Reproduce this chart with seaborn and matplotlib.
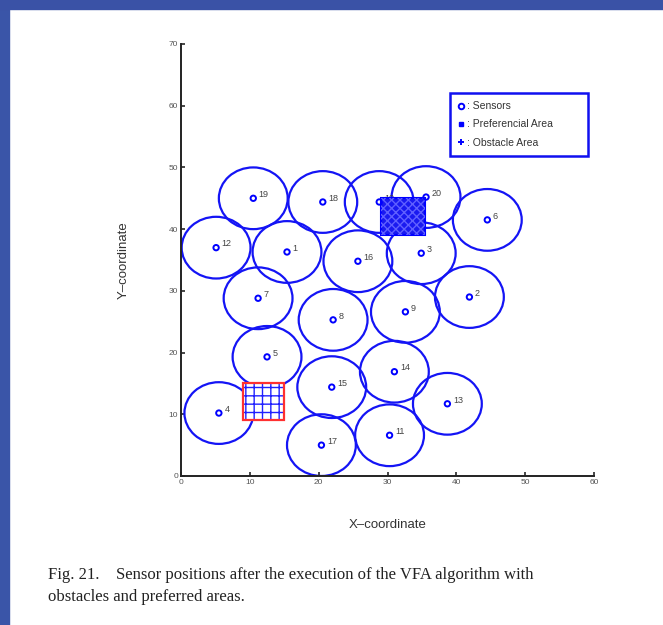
import matplotlib
matplotlib.use("Agg")
import matplotlib.pyplot as plt
from matplotlib.patches import Circle, Rectangle
from matplotlib.lines import Line2D
import pandas as pd
import seaborn as sns

# sensor ids and final positions
sensor_ids = list(range(1, 21))
sensor_x = [15.4, 41.9, 34.9, 5.5, 12.5, 44.5, 11.2, 22.1, 32.6, 28.8,
            30.3, 5.1, 38.7, 31.0, 21.9, 25.7, 20.4, 20.6, 10.5, 35.6]
sensor_y = [36.3, 29.0, 36.1, 10.2, 19.3, 41.5, 28.8, 25.3, 26.6, 44.4,
            6.6, 37.0, 11.7, 16.9, 14.4, 34.8, 5.0, 44.4, 45.0, 45.2]
sensing_radius = 5

# areas: [x0, y0, width, height]
preferred_area = [29, 39, 6.5, 6]
obstacle_area = [9, 9, 6, 6]

legend_labels = [": Sensors", ": Preferencial Area", ": Obstacle Area"]

df = pd.DataFrame({"id": sensor_ids, "x": sensor_x, "y": sensor_y})

sns.set_style("ticks")
plt.rcParams["font.family"] = ["Liberation Sans", "DejaVu Sans"]
plt.rcParams["hatch.linewidth"] = 1.0

fig = plt.figure(figsize=(6.63, 6.25), dpi=100)
fig.patch.set_facecolor("white")
# blue slide frame (left and top)
fig.patches.append(Rectangle((0, 0), 9 / 663, 1, transform=fig.transFigure,
                             color="#3a55a8", zorder=0))
fig.patches.append(Rectangle((0, 1 - 9 / 625), 1, 9 / 625, transform=fig.transFigure,
                             color="#3a52a6", zorder=0))

ax = fig.add_axes([181 / 663, 149 / 625, 413 / 663, 432 / 625])

# sensing ranges
for x, y in zip(sensor_x, sensor_y):
    ax.add_patch(Circle((x, y), sensing_radius, fill=False, edgecolor="#1414f5",
                        linewidth=1.6, zorder=2))

# labels
for i, x, y in zip(sensor_ids, sensor_x, sensor_y):
    ax.text(x + 0.8, y + 0.2, str(i), fontsize=6.5, color="#444444", zorder=3)

# preferred area (dense blue)
px, py, pw, ph = preferred_area
ax.add_patch(Rectangle((px, py), pw, ph, facecolor="#1a1af0", edgecolor="#0000ff",
                       linewidth=1.5, zorder=4))
ax.add_patch(Rectangle((px, py), pw, ph, facecolor="none", edgecolor="#6060ff",
                       hatch="xxxx", linewidth=0, zorder=4))

# obstacle area: blue grid inside red square
ox, oy, ow, oh = obstacle_area
ax.add_patch(Rectangle((ox, oy), ow, oh, facecolor="white", edgecolor="#2020ff",
                       hatch="++", linewidth=0, zorder=4))
ax.add_patch(Rectangle((ox, oy), ow, oh, fill=False, edgecolor="#ff3030",
                       linewidth=1.6, zorder=5))

sns.scatterplot(data=df, x="x", y="y", ax=ax, marker="o", s=15,
                facecolor="none", edgecolor="#0000ff", linewidth=1.4, zorder=6,
                legend=False)

ax.set_xlim(0, 60)
ax.set_ylim(0, 70)
ax.set_xticks(range(0, 61, 10))
ax.set_yticks(range(0, 71, 10))
ax.tick_params(direction="in", length=3, width=1.2, labelsize=6,
               labelcolor="#555555", pad=2)
for side in ["top", "right"]:
    ax.spines[side].set_visible(False)
for side in ["left", "bottom"]:
    ax.spines[side].set_linewidth(1.4)
    ax.spines[side].set_color("#222222")

ax.set_xlabel("X\u2013coordinate", fontsize=9.5, color="#333333", labelpad=24)
ax.set_ylabel("Y\u2013coordinate", fontsize=9.5, color="#333333", labelpad=28)

handles = [
    Line2D([], [], marker="o", linestyle="none", markersize=4, markerfacecolor="none",
           markeredgecolor="#0000ff", markeredgewidth=1.4),
    Line2D([], [], marker="s", linestyle="none", markersize=3, color="#0000ff"),
    Line2D([], [], marker="+", linestyle="none", markersize=5, color="#0000ff",
           markeredgewidth=1.4),
]
leg = ax.legend(handles, legend_labels,
                loc="upper left", bbox_to_anchor=(0.651, 0.5, 0.334, 0.387),
                mode="expand", fontsize=7.5, fancybox=False, framealpha=1,
                handlelength=0.6, handletextpad=0.2, borderpad=0.8,
                labelspacing=0.8, borderaxespad=0)
leg.get_frame().set_edgecolor("#1010f0")
leg.get_frame().set_linewidth(1.8)
for t in leg.get_texts():
    t.set_color("#333333")

caption_font = ["Liberation Serif", "DejaVu Serif"]
fig.text(48 / 663, 1 - 575 / 625,
         "Fig. 21.    Sensor positions after the execution of the VFA algorithm with",
         fontsize=12, family=caption_font, color="#222222", va="center")
fig.text(48 / 663, 1 - 597 / 625, "obstacles and preferred areas.",
         fontsize=12, family=caption_font, color="#222222", va="center")

fig.savefig("out.png", dpi=100)
